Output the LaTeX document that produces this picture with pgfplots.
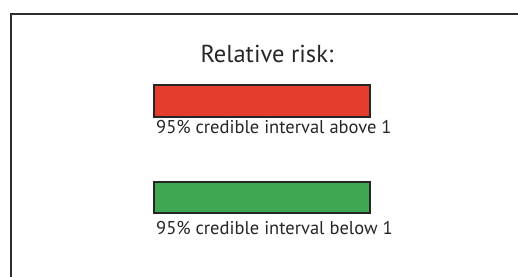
\documentclass[border=0pt]{standalone}
\usepackage{fontspec}
\setmainfont{PT Sans}
\usepackage{pgfplots}
\pgfplotsset{compat=1.18}
\definecolor{rrred}{RGB}{229,61,45}
\definecolor{rrgreen}{RGB}{61,167,82}
\definecolor{frame}{RGB}{45,45,45}
\begin{document}
\begin{tikzpicture}
\begin{axis}[
  name=main,
  scale only axis, width=518bp, height=277bp,
  xmin=0, xmax=518, ymin=0, ymax=277,
  hide axis, clip=true,
]
% frame (extends past right and bottom edges)
\addplot[draw=frame, line width=2.2bp] coordinates {(11,-10) (11,263) (540,263)};
% red bar
\addplot[fill=rrred, draw=black!85, line width=2bp] coordinates {(154,160) (370,160) (370,192) (154,192)} -- cycle;
% green bar
\addplot[fill=rrgreen, draw=black!85, line width=2bp] coordinates {(154,64) (370,64) (370,95) (154,95)} -- cycle;
\node[anchor=base, text=black!85, font=\fontsize{24.5bp}{28bp}\selectfont, inner sep=0pt] at (axis cs:267,214) {Relative risk:};
\node[anchor=base west, text=black!85, font=\fontsize{18.5bp}{22bp}\selectfont, inner sep=0pt] at (axis cs:156,143) {95\% credible interval above 1};
\node[anchor=base west, text=black!85, font=\fontsize{18.5bp}{22bp}\selectfont, inner sep=0pt] at (axis cs:156,42) {95\% credible interval below 1};
\end{axis}
\pgfresetboundingbox
\path[use as bounding box] (main.south west) rectangle (main.north east);
\end{tikzpicture}
\end{document}
